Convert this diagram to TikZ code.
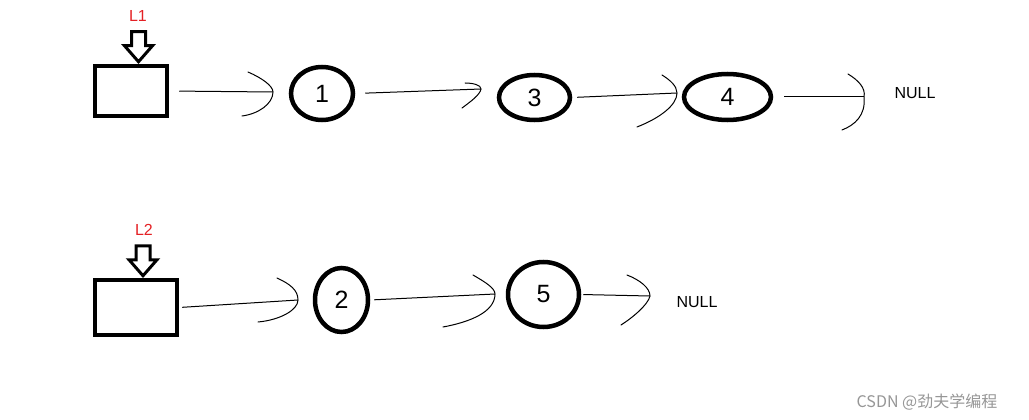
\documentclass[tikz,border=0pt]{standalone}
\usepackage{fontspec}
\setmainfont{Liberation Sans}
\newfontfamily\cjkfont{Noto Sans CJK SC}
\usepackage{tikz}
\usetikzlibrary{positioning, shapes.geometric}
\definecolor{labelred}{RGB}{228,32,36}
\definecolor{markgray}{RGB}{150,150,150}

\begin{document}
\begin{tikzpicture}[x=1pt, y=-1pt, cell/.style={rectangle, draw=black, line width=4.5pt, inner sep=0pt}, elem/.style={ellipse, draw=black, line width=4.5pt, inner sep=0pt, font=\fontsize{25}{27}\selectfont}, listname/.style={text=labelred, inner sep=0pt, font=\fontsize{16}{18}\selectfont}, nullmark/.style={inner sep=0pt, font=\fontsize{16}{18}\selectfont}, wire/.style={line width=1pt}, hook/.style={line width=1pt, line cap=round}, pics/listptr/.style={code={\draw[line width=3pt, line join=miter] (0,0) -- (-14,-16) -- (-7,-16) -- (-7,-30) -- (7,-30) -- (7,-16) -- (14,-16) -- cycle;}}]

    \useasboundingbox (0,0) rectangle (1029,420);

    % Nodes
    \node[cell, minimum width=72, minimum height=50]    (b1)    at (131,91)       {};
    \node[elem, minimum width=62, minimum height=53]    (c1)    at (322,93.5)     {1};
    \node[elem, minimum width=71, minimum height=45]    (c3)    at (534.5,97.5)   {3};
    \node[elem, minimum width=87, minimum height=46]    (c4)    at (727.5,97)     {4};
    \node[nullmark]                                     (null1) at (915,93)       {NULL};

    \node[cell, minimum width=82, minimum height=55]    (b2)    at (136,307.5)    {};
    \node[elem, minimum width=53, minimum height=64]    (c2)    at (341.5,300)    {2};
    \node[elem, minimum width=71, minimum height=65]    (c5)    at (543.5,294.5)  {5};
    \node[nullmark]                                     (null2) at (697,302)      {NULL};

    \node[listname] (l1) at (138,16)  {L1};
    \node[listname] (l2) at (144,230) {L2};
    \node[text=markgray, inner sep=0pt, font=\cjkfont\fontsize{16}{18}\selectfont] (mark) at (927,402) {CSDN @劲夫学编程};

    % Pointers
    \pic at ([xshift=7.5pt, yshift=2pt]b1.north) {listptr};
    \pic at ([xshift=7pt, yshift=2pt]b2.north) {listptr};

    % Tips
    \coordinate (t1) at (273,92);
    \coordinate (t2) at (481,89);
    \coordinate (t3) at (677,93);
    \coordinate (t4) at (864,97);
    \coordinate (t5) at (298,300);
    \coordinate (t6) at (495,294);
    \coordinate (t7) at (650,296);

    % Lines ---------------
    \draw[wire, shorten <=10pt] (b1.east) -- (t1);
    \draw[wire, shorten <=10pt] (c1.east) -- (t2);
    \draw[wire, shorten <=5pt]  (c3.east) -- (t3);
    \draw[wire, shorten <=11pt] (c4.east) -- (t4);
    \draw[wire, shorten <=3pt]  (b2.east) -- (t5);
    \draw[wire, shorten <=4pt]  (c2.east) -- (t6);
    \draw[wire, shorten <=2pt]  (c5.east) -- (t7);

    % Heads
    \draw[hook] (248,72)  .. controls (262,78) and (273,86)  .. (t1) .. controls (273,104) and (258,114) .. (242,116);
    \draw[hook] (465,83)  .. controls (473,83) and (481,85)  .. (t2) .. controls (480,95) and (470,102)   .. (462,108);
    \draw[hook] (662,75)  .. controls (670,80) and (677,86)  .. (t3) .. controls (677,105) and (660,118) .. (637,127);
    \draw[hook] (848,74)  .. controls (858,80) and (866,88)  .. (t4) .. controls (866,115) and (855,125) .. (842,130);
    \draw[hook] (277,278) .. controls (290,284) and (298,290) .. (t5) .. controls (298,310) and (280,320) .. (258,322);
    \draw[hook] (473,275) .. controls (485,282) and (495,288) .. (t6) .. controls (495,312) and (470,322) .. (443,327);
    \draw[hook] (627,275) .. controls (640,280) and (650,288) .. (t7) .. controls (648,305) and (632,318) .. (621,325);

\end{tikzpicture}
\end{document}
